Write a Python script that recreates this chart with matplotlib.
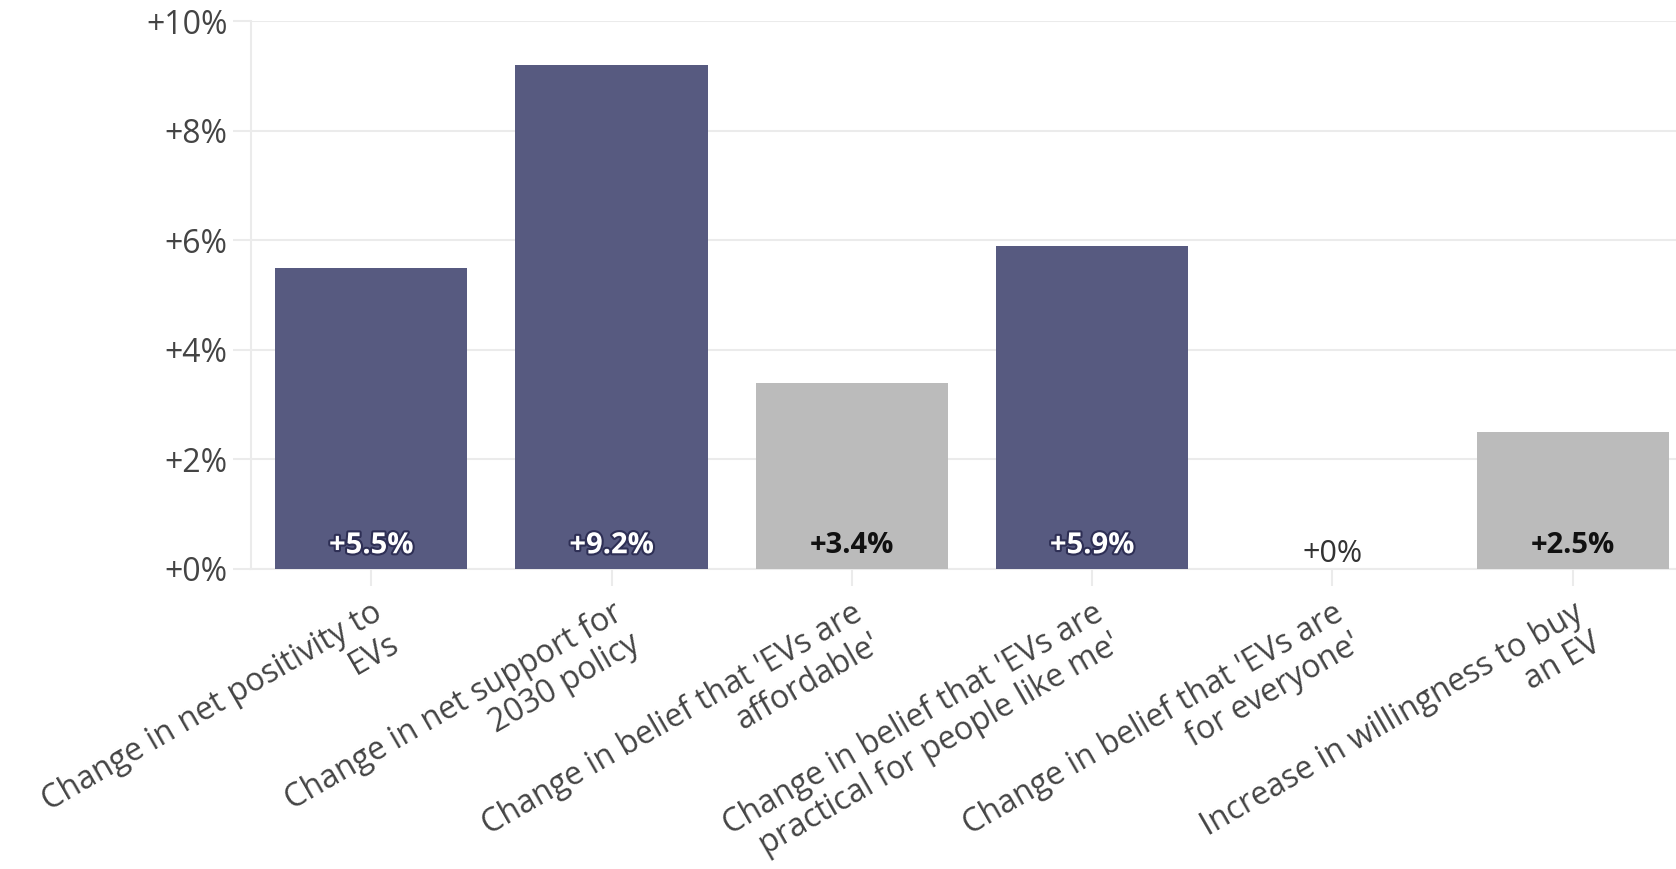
import matplotlib
matplotlib.use("Agg")
import matplotlib.pyplot as plt
import matplotlib.patheffects as pe

plt.rcParams['font.family'] = ['Open Sans', 'DejaVu Sans']

categories = [
    "Change in net positivity to\nEVs",
    "Change in net support for\n2030 policy",
    "Change in belief that 'EVs are\naffordable'",
    "Change in belief that 'EVs are\npractical for people like me'",
    "Change in belief that 'EVs are\nfor everyone'",
    "Increase in willingness to buy\nan EV",
]
values = [5.5, 9.2, 3.4, 5.9, 0.0, 2.5]
significant = [True, True, False, True, False, False]
y_ticks = [0, 2, 4, 6, 8, 10]

DARK = "#575a80"
GREY = "#bbbbbb"
TEXT = "#444444"


def fmt(v):
    return "+{:g}%".format(v)


def main():
    fig = plt.figure(figsize=(16.76, 8.69), dpi=100)
    ax = fig.add_axes([0.1498, 0.3457, 0.8502, 0.6297])

    x = list(range(len(categories)))
    colors = [DARK if s else GREY for s in significant]
    ax.bar(x, values, width=0.8, color=colors, zorder=3)

    ax.set_xlim(-0.5, 5.43)
    ax.set_ylim(0, 10)
    ax.set_yticks(y_ticks)
    ax.set_yticklabels([fmt(t) for t in y_ticks], fontsize=23, color=TEXT)
    ax.set_xticks(x)
    ax.set_xticklabels(categories, rotation=30, ha="right", va="top",
                       rotation_mode="anchor", fontsize=23, color=TEXT,
                       multialignment="right", linespacing=1.1)

    ax.grid(axis="y", color="#ebebeb", linewidth=1.5, zorder=0)
    for side in ["top", "right"]:
        ax.spines[side].set_visible(False)
    ax.spines["left"].set_color("#ebebeb")
    ax.spines["left"].set_linewidth(1.5)
    ax.spines["bottom"].set_color("#ebebeb")
    ax.spines["bottom"].set_linewidth(1.5)
    ax.tick_params(axis="y", length=13, color="#ebebeb", width=1.5, pad=4)
    ax.tick_params(axis="x", length=12, color="#ebebeb", width=1.5, pad=8)

    # value labels near the base of each bar
    for xi, v, s in zip(x, values, significant):
        if v == 0:
            ax.annotate(fmt(v), (xi, 0), xytext=(0, 0), textcoords="offset points",
                        ha="center", va="bottom", fontsize=22, color="#333333")
        elif s:
            ax.annotate(fmt(v), (xi, 0), xytext=(0, 6), textcoords="offset points",
                        ha="center", va="bottom", fontsize=21, fontweight="bold",
                        color="white",
                        path_effects=[pe.withStroke(linewidth=3, foreground="#2e2f55")])
        else:
            ax.annotate(fmt(v), (xi, 0), xytext=(0, 6), textcoords="offset points",
                        ha="center", va="bottom", fontsize=21, fontweight="bold",
                        color="#111111")

    fig.savefig("out.png", dpi=100)


if __name__ == "__main__":
    main()
